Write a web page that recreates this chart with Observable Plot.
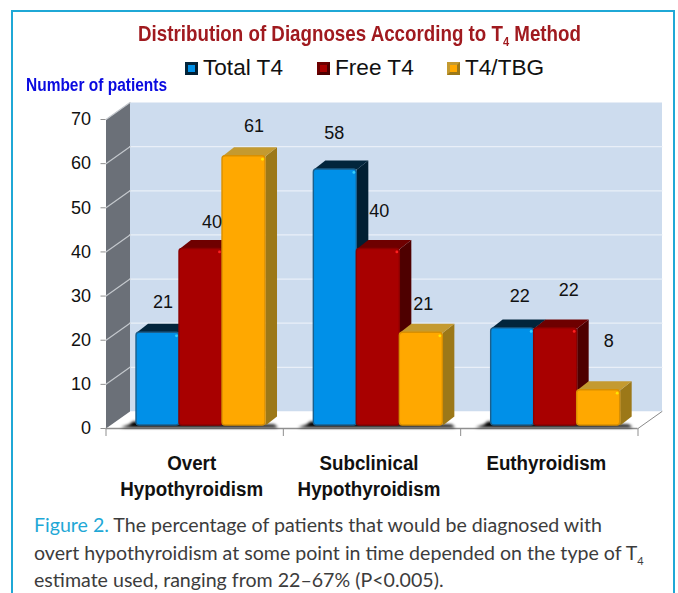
<!DOCTYPE html>
<html><head><meta charset="utf-8">
<style>
html,body{margin:0;padding:0;background:#fff}
#page{position:relative;width:678px;height:593px;overflow:hidden;background:#fff;font-family:"Liberation Sans",Arial,sans-serif}
#frame{position:absolute;left:11px;top:10px;width:664px;height:640px;border:2px solid #1fa8d6;box-sizing:border-box}
#title{position:absolute;left:0;top:21px;width:719px;text-align:center;font:bold 22px "Liberation Sans",sans-serif;color:#a01a1f;white-space:nowrap;transform:scaleX(.852);transform-origin:center}
#title sub{font-size:13px;line-height:0}
#ylabel{position:absolute;left:26px;top:75px;font:bold 18px "Liberation Sans",sans-serif;color:#0a0ae0;white-space:nowrap;transform:scaleX(.86);transform-origin:left}
.lg{position:absolute;top:55px;font:22.6px "Liberation Sans",sans-serif;color:#111;white-space:nowrap}
.sw{position:absolute;top:62px;width:13px;height:13px;box-sizing:border-box;border:3px solid}
#chart{position:absolute;left:0;top:95px}
#caption{position:absolute;left:34px;top:511px;width:640px;font:19.6px/27.5px Lato,sans-serif;color:#3c3c3c;white-space:nowrap}
#caption b{font-weight:normal;color:#1fa8d6}
#caption sub{font-size:11px;line-height:0}
</style>
<script src="https://cdn.jsdelivr.net/npm/d3@7"></script>
<script src="https://cdn.jsdelivr.net/npm/@observablehq/plot@0.6"></script>
</head><body>
<div id="page">
<div id="frame"></div>
<div id="title">Distribution of Diagnoses According to T<sub>4</sub> Method</div>
<div id="ylabel">Number of patients</div>
<div id="legend"></div>
<div id="chart"></div>
<div id="caption"><b>Figure 2.</b> The percentage of patients that would be diagnosed with<br>overt hypothyroidism at some point in time depended on the type of T<sub>4</sub><br>estimate used, ranging from 22–67% (P&lt;0.005).</div>
</div>
<script>
const categories = ["Overt\nHypothyroidism", "Subclinical\nHypothyroidism", "Euthyroidism"];
const seriesNames = ["Total T4", "Free T4", "T4/TBG"];
const totalT4 = [21, 58, 22];
const freeT4 = [40, 40, 22];
const t4Tbg = [61, 21, 8];
const yTicks = [0, 10, 20, 30, 40, 50, 60, 70];

const seriesValues = [totalT4, freeT4, t4Tbg];
const palette = [
  {front:"#0090e8", top:"#02253c", side:"#011f33", edge:"#1b5f8c", glint:"#35d0ff"},
  {front:"#a80000", top:"#6e0000", side:"#4e0000", edge:"#8c0000", glint:"#ff2020"},
  {front:"#ffa800", top:"#c49a30", side:"#9c7818", edge:"#d98f00", glint:"#ffe600"}
];
// hand placement of the value labels in the original, in pixels from each bar's top
const labelNudge = [
  [[5,-31],[-1,-36],[7,-32]],
  [[11,-27],[1,-38],[13,-38]],
  [[10,-30],[2,-29],[10,-49]]
];

// projection of the pseudo-3D box, expressed in data units
const wallX = 24/177.33, wallY = 17/4.414;
const barStart = 0.172, barW = 0.2425, barBase = 0.68, barDX = 11.5/177.33, barDY = 9/4.414;

const poly = (pts, fill, opts={}) => Plot.line(pts, {x:"0", y:"1", fill, stroke:"none", curve:"linear-closed", ...opts});
const blur = (i,s,v,d,c,n) => {const g = n(i,s,v,d,c); g.style.filter = "blur(1.6px)"; return g;};
const narrow = (i,s,v,d,c,n) => {const g = n(i,s,v,d,c);
  g.querySelectorAll("text").forEach(t => t.setAttribute("transform", (t.getAttribute("transform")||"") + " scale(0.894,1)"));
  return g;};

const marks = [
  poly([[wallX,0+wallY],[3+wallX,wallY],[3+wallX,70+wallY],[wallX,70+wallY]], "#cddcee"),
  poly([[0,0],[3,0],[3+wallX,wallY],[wallX,wallY]], "#ffffff"),
  poly([[0,0],[wallX,wallY],[wallX,70+wallY],[0,70]], "#6b7078"),
];
for (const t of yTicks.slice(1)) {
  if (t < 70) marks.push(Plot.line([[wallX,t+wallY],[3+wallX,t+wallY]], {x:"0",y:"1",stroke:"#e9eff8",strokeWidth:1.3}));
  marks.push(Plot.line([[0,t],[wallX,t+wallY]], {x:"0",y:"1",stroke:"#c4c8cd",strokeWidth:1.2}));
}
marks.push(Plot.line([[3,0],[3+wallX,wallY]], {x:"0",y:"1",stroke:"#8a8a8a",strokeWidth:1}));
marks.push(Plot.ruleY([0], {stroke:"#8f8f8f", strokeWidth:1.4}));

categories.forEach((c, g) => {
  const l = g + barStart;
  marks.push(poly([[l-0.09,0.2],[l+3*barW+0.07,0.2],[l+3*barW+0.05,0.9],[l-0.02,1.6],[l-0.04,0.9]], "#000", {render: blur}));
});

categories.forEach((c, g) => {
  seriesValues.forEach((vals, s) => {
    const v = vals[g], col = palette[s];
    const x1 = g + barStart + s*barW, x2 = x1 + barW, y1 = barBase, y2 = v + barBase;
    marks.push(poly([[x2,y1],[x2+barDX,y1+barDY],[x2+barDX,y2+barDY],[x2,y2]], col.side));
    marks.push(poly([[x1,y2],[x2,y2],[x2+barDX,y2+barDY],[x1+barDX,y2+barDY]], col.top));
    marks.push(Plot.rect([{x1,x2,y1,y2}], {x1:"x1",x2:"x2",y1:"y1",y2:"y2",fill:col.front,stroke:col.edge,strokeWidth:1.4,rx:3}));
    marks.push(Plot.dot([{x:x2,y:y2}], {x:"x",y:"y",r:1.4,fill:col.glint,dx:-3,dy:3}));
  });
});

seriesValues.forEach((vals, s) => vals.forEach((v, g) => {
  const [dx, dy] = labelNudge[s][g];
  marks.push(Plot.text([{x:g+barStart+(s+0.5)*barW, y:v+barBase, t:String(v)}], {x:"x",y:"y",text:"t",dx,dy,fontSize:18,fill:"#111",fontFamily:"Liberation Sans"}));
}));

marks.push(Plot.axisY({ticks:yTicks, tickSize:5, tickPadding:10, fontSize:18, stroke:"#8f8f8f", fill:"#111", label:null, tickFormat:d=>String(d), fontFamily:"Liberation Sans"}));
marks.push(Plot.axisX({ticks:[0,1,2,3], tickSize:8, tickFormat:()=>"", stroke:"#8f8f8f", label:null}));
marks.push(Plot.text(categories, {x:(d,i)=>i+0.5, y:()=>0, text:d=>d, dx:-3, dy:23, lineAnchor:"top", lineHeight:1.24, fontSize:21, fontWeight:"bold", fill:"#111", fontFamily:"Liberation Sans", render:narrow}));

const plot = Plot.plot({
  width:678, height:410,
  marginLeft:105.5, marginRight:40.5, marginTop:24, marginBottom:77,
  x:{type:"linear", domain:[0,3]},
  y:{type:"linear", domain:[0,70]},
  style:{background:"transparent", overflow:"visible"},
  marks
});
document.getElementById("chart").appendChild(plot);

// legend (HTML, above the SVG)
const legendX = [[185,203],[317,335],[447,465]];
const legend = d3.select("#legend");
seriesNames.forEach((n, i) => {
  legend.append("div").attr("class","sw")
    .style("left", legendX[i][0]+"px")
    .style("background", palette[i].front)
    .style("border-color", `${palette[i].top} ${palette[i].side} ${palette[i].side} ${palette[i].top}`);
  legend.append("div").attr("class","lg").style("left", legendX[i][1]+"px").text(n);
});
</script>
</body></html>
